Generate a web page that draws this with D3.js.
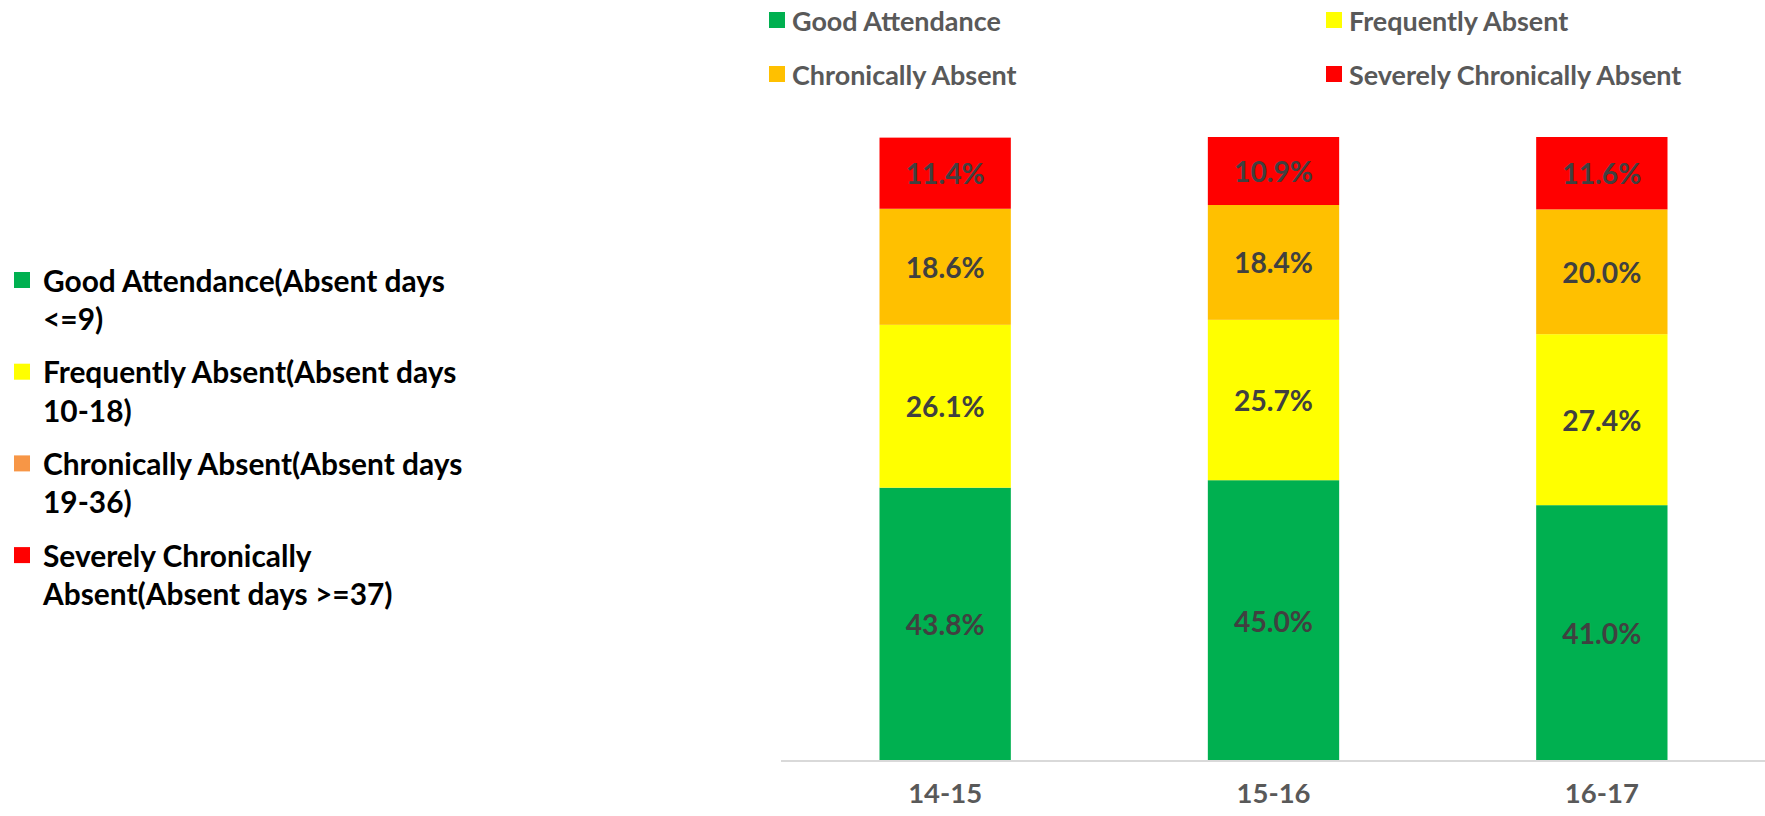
<!DOCTYPE html>
<html><head><meta charset="utf-8">
<script src="https://cdn.jsdelivr.net/npm/d3@7"></script>
<style>html,body{margin:0;padding:0;background:#fff;overflow:hidden}</style>
</head><body>
<svg id="chart" width="1765" height="816"></svg>
<script>
const categories = ["14-15", "15-16", "16-17"];
const seriesNames = ["Good Attendance", "Frequently Absent", "Chronically Absent", "Severely Chronically Absent"];
const good = [43.8, 45.0, 41.0];
const frequent = [26.1, 25.7, 27.4];
const chronic = [18.6, 18.4, 20.0];
const severe = [11.4, 10.9, 11.6];
const seriesColors = ["#00B050", "#FFFF00", "#FFC000", "#FF0000"];
const sideLegendColors = ["#00B050", "#FFFF00", "#F79646", "#FF0000"];
const sideLegendLines = [
  ["Good Attendance(Absent days", "<=9)"],
  ["Frequently Absent(Absent days", "10-18)"],
  ["Chronically Absent(Absent days", "19-36)"],
  ["Severely Chronically", "Absent(Absent days >=37)"]
];

const svg = d3.select("#chart");
const FONT = "Lato, 'Open Sans', sans-serif";

function fitSize(str, target) {
  const probe = svg.append("text").attr("font-family", FONT).attr("font-weight", "bold")
    .attr("font-size", 28).text(str);
  const w = probe.node().getComputedTextLength();
  probe.remove();
  return 28 * target / w;
}
const FS = fitSize("Good Attendance", 209);
const FS_LEFT = fitSize("Good Attendance(Absent days", 402);
const FS_LABEL = fitSize("43.8%", 79);
const FS_CAT = fitSize("14-15", 74);

const table = categories.map((c, i) => ({cat: c, g: good[i], f: frequent[i], c2: chronic[i], s: severe[i]}));
const keys = ["g", "f", "c2", "s"];
const stack = d3.stack().keys(keys)(table);

const x = d3.scaleBand().domain(categories).range([781, 1766]).paddingInner(0.6).paddingOuter(0.3);
const y = d3.scaleLinear().domain([0, 100]).range([761, 137]);

// bars
stack.forEach((layer, li) => {
  const g = svg.append("g");
  g.selectAll("rect").data(layer).join("rect")
    .attr("x", d => x(d.data.cat))
    .attr("width", x.bandwidth())
    .attr("y", d => y(d[1]))
    .attr("height", d => y(d[0]) - y(d[1]))
    .attr("fill", seriesColors[li]);
  g.selectAll("text").data(layer).join("text")
    .attr("x", d => x(d.data.cat) + x.bandwidth() / 2)
    .attr("y", d => (y(d[0]) + y(d[1])) / 2)
    .attr("text-anchor", "middle")
    .attr("dominant-baseline", "central")
    .attr("font-family", FONT).attr("font-weight", "bold").attr("font-size", FS_LABEL)
    .attr("fill", "#404040")
    .text(d => (d[1] - d[0]).toFixed(1) + "%");
});

// x axis
const axis = svg.append("g").attr("transform", "translate(0,761)")
  .call(d3.axisBottom(x).tickSize(0).tickPadding(34));
axis.select(".domain").attr("stroke", "#D9D9D9").attr("stroke-width", 2).attr("d", "M781,0H1765");
axis.selectAll("text").attr("font-family", FONT).attr("font-weight", "bold")
  .attr("font-size", FS_CAT).attr("fill", "#595959").attr("dy", "0.3em");

// top legend
const topPos = [[769, 20], [1326, 20], [769, 74], [1326, 74]];
seriesNames.forEach((n, i) => {
  const [lx, ly] = topPos[i];
  svg.append("rect").attr("x", lx).attr("y", ly - 8).attr("width", 16).attr("height", 16).attr("fill", seriesColors[i]);
  svg.append("text").attr("x", lx + 23).attr("y", ly).attr("dominant-baseline", "central")
    .attr("font-family", FONT).attr("font-weight", "bold").attr("font-size", FS)
    .attr("fill", "#595959").text(n);
});

// side legend
sideLegendLines.forEach((lines, i) => {
  const cy = 280 + i * 91.7;
  svg.append("rect").attr("x", 14).attr("y", cy - 8).attr("width", 16).attr("height", 16).attr("fill", sideLegendColors[i]);
  lines.forEach((t, j) => {
    svg.append("text").attr("x", 43).attr("y", cy + j * 38.5).attr("dominant-baseline", "central")
      .attr("font-family", FONT).attr("font-weight", "bold").attr("font-size", FS_LEFT)
      .attr("fill", "#000").text(t);
  });
});
</script>
</body></html>
